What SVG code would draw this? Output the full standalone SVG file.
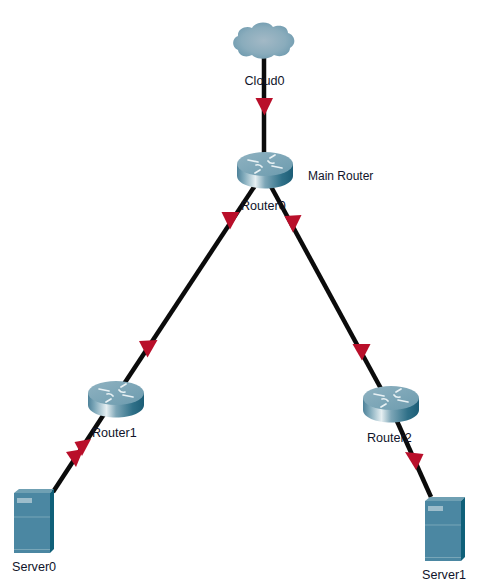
<svg xmlns="http://www.w3.org/2000/svg" width="490" height="582" viewBox="0 0 490 582">
<style>
.link{stroke:#0b0b0b;stroke-width:4.500;stroke-linecap:butt;fill:none}
.arrow{fill:#b90f2a}
.lbl{font-family:"Liberation Sans",Arial,sans-serif;font-size:12.600px;fill:#10142a}
.sm{font-size:12px}
.rc{fill:none;stroke:#e8f1f4;stroke-width:1.700;stroke-linecap:round}
</style>
<defs>
<linearGradient id="rb" x1="0" x2="1" y1="0" y2="0">
<stop offset="0" stop-color="#4d8199"/><stop offset=".12" stop-color="#7fa9ba"/><stop offset=".33" stop-color="#e6eff2"/><stop offset=".5" stop-color="#7da6b7"/><stop offset=".8" stop-color="#2f7088"/><stop offset="1" stop-color="#1c5d76"/>
</linearGradient>
<linearGradient id="rt" x1="0" x2="1" y1="0" y2="1">
<stop offset="0" stop-color="#8fb2c1"/><stop offset="1" stop-color="#6c9bae"/>
</linearGradient>
<radialGradient id="cl" cx=".5" cy=".5" r=".6">
<stop offset="0" stop-color="#a3b9c6"/><stop offset=".6" stop-color="#8aacbc"/><stop offset="1" stop-color="#6a98ad"/>
</radialGradient>
<g id="router">
<path d="M0 12V24C0 31 12.500 36.500 28 36.500S56 31 56 24V12Z" fill="url(#rb)"/>
<ellipse cx="28" cy="12" rx="28" ry="12" fill="url(#rt)"/>
<path class="rc" d="M11 8L21 10M45 16L35 14M23 18L18 21M33 6L38 3M31 9Q33 12 37 11M25 15Q23 12 19 13"/>
</g>
<g id="server">
<path d="M0 4L5 0H40L36 4Z" fill="#6fa0b3"/>
<path d="M36 4L40 0V60L36 64Z" fill="#0f6079"/>
<rect x="0" y="4" width="36" height="60" fill="#4b87a2"/>
<rect x="3" y="9" width="15" height="5" fill="#9dbdcb"/>
<path d="M0 28H36M0 60.500H36" stroke="#78a6b8" stroke-width="1" fill="none"/>
</g>
</defs>
<g id="connectors">
<path class="link" d="M264 50V160"/>
<path class="link" d="M258 181L118 393"/>
<path class="link" d="M268 181L385 396"/>
<path class="link" d="M110 405L53 492"/>
<path class="link" d="M392 410L431 497"/>
<polygon class="arrow" points="255.500,98 273,98 264.500,115.500"/>
<polygon class="arrow" points="221.500,212 239.500,212 230,229.500"/>
<polygon class="arrow" points="284.500,216 301.500,215 293,232.500"/>
<polygon class="arrow" points="139,341 157.500,340 147.500,357.500"/>
<polygon class="arrow" points="74.500,442 91,439 82,456"/>
<polygon class="arrow" points="66,452 83.500,449 76,467"/>
<polygon class="arrow" points="352.500,344 370.500,344 362,360.500"/>
<polygon class="arrow" points="405,452 423.500,454 416,470"/>
</g>
<g id="cloud0">
<path d="M238 50C231 47 232 38 238 36C237 29 246 25 252 28C256 21 269 21 273 27C279 24 288 26 288 33C295 35 297 44 290 48C290 55 280 58 274 55C268 60 257 60 252 55C246 58 239 56 238 50Z" fill="url(#cl)"/>
<text class="lbl" x="244.500" y="85">Cloud0</text>
</g>
<g id="router0">
<use href="#router" x="237" y="152"/>
<text class="lbl" x="241" y="210">Router0</text>
</g>
<text id="main-router" class="lbl sm" x="308" y="180">Main Router</text>
<g id="router1">
<use href="#router" x="88" y="381"/>
<text class="lbl" x="92" y="437">Router1</text>
</g>
<g id="router2">
<use href="#router" x="363" y="386"/>
<text class="lbl" x="367" y="442">Router2</text>
</g>
<g id="server0">
<use href="#server" x="14" y="489"/>
<text class="lbl" x="12" y="571">Server0</text>
</g>
<g id="server1">
<use href="#server" x="425" y="497"/>
<text class="lbl" x="422" y="579">Server1</text>
</g>
</svg>
